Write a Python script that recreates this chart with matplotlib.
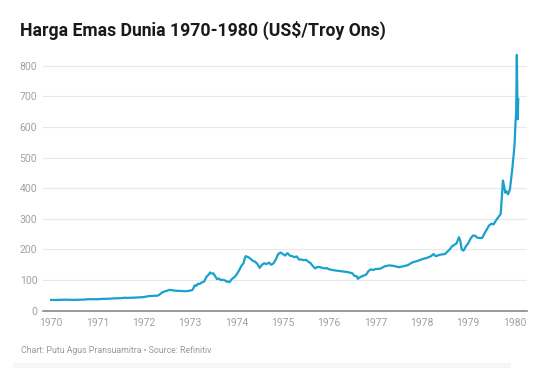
import matplotlib.pyplot as plt
from matplotlib.patches import Rectangle

# ====================== DATA ======================
years = [
    1970.00, 1970.10, 1970.20, 1970.30, 1970.40, 1970.50, 1970.60, 1970.70, 1970.80, 1970.90,
    1971.00, 1971.10, 1971.20, 1971.30, 1971.40, 1971.50, 1971.60, 1971.65, 1971.70, 1971.80, 1971.90,
    1972.00, 1972.10, 1972.20, 1972.30, 1972.35, 1972.40, 1972.45, 1972.50, 1972.55, 1972.60,
    1972.65, 1972.70, 1972.80, 1972.90, 1972.95,
    1973.00, 1973.05, 1973.10, 1973.13, 1973.17, 1973.20, 1973.25, 1973.30, 1973.35, 1973.40,
    1973.43, 1973.46, 1973.50, 1973.55, 1973.58, 1973.62, 1973.66, 1973.70, 1973.75, 1973.78,
    1973.80, 1973.85, 1973.88, 1973.92, 1973.96,
    1974.00, 1974.05, 1974.10, 1974.15, 1974.18, 1974.20, 1974.25, 1974.30, 1974.35, 1974.40,
    1974.45, 1974.50, 1974.55, 1974.60, 1974.65, 1974.70, 1974.75, 1974.80, 1974.85, 1974.90, 1974.95,
    1975.00, 1975.05, 1975.10, 1975.15, 1975.20, 1975.25, 1975.30, 1975.35, 1975.40, 1975.45,
    1975.50, 1975.55, 1975.60, 1975.65, 1975.70, 1975.75, 1975.80, 1975.85, 1975.90, 1975.95,
    1976.00, 1976.10, 1976.20, 1976.30, 1976.40, 1976.50, 1976.55, 1976.60, 1976.62, 1976.65,
    1976.70, 1976.75, 1976.80, 1976.85, 1976.90, 1976.95,
    1977.00, 1977.10, 1977.20, 1977.30, 1977.40, 1977.50, 1977.60, 1977.70, 1977.80, 1977.90,
    1978.00, 1978.10, 1978.20, 1978.25, 1978.30, 1978.40, 1978.50, 1978.60, 1978.65, 1978.70,
    1978.75, 1978.80, 1978.83, 1978.86, 1978.90, 1978.95,
    1979.00, 1979.05, 1979.10, 1979.15, 1979.20, 1979.30, 1979.35, 1979.40, 1979.45, 1979.50,
    1979.55, 1979.60, 1979.65, 1979.70, 1979.72, 1979.75, 1979.77, 1979.80, 1979.83, 1979.86,
    1979.90, 1979.92, 1979.95, 1979.98,
    1980.00, 1980.02, 1980.035, 1980.05, 1980.055, 1980.06, 1980.065, 1980.07, 1980.075, 1980.08,
]
price = [
    35.2, 35.0, 35.6, 35.9, 35.6, 35.3, 35.6, 36.2, 37.5, 37.4,
    37.4, 38.6, 38.8, 39.8, 40.5, 40.8, 42.5, 41.5, 42.3, 42.6, 43.5,
    44.5, 47.5, 48.5, 49.0, 54.0, 60.0, 63.0, 65.0, 68.0, 67.0,
    66.0, 65.0, 64.5, 63.5, 64.5,
    65.5, 68.0, 83.0, 81.0, 88.0, 87.0, 92.0, 95.0, 110.0, 118.0,
    125.0, 121.0, 122.0, 110.0, 103.0, 105.0, 100.0, 101.0, 99.0, 95.0,
    96.0, 93.0, 100.0, 106.0, 110.0,
    118.0, 130.0, 145.0, 155.0, 172.0, 178.0, 175.0, 170.0, 163.0, 160.0,
    153.0, 140.0, 150.0, 155.0, 152.0, 157.0, 150.0, 155.0, 168.0, 185.0, 190.0,
    185.0, 180.0, 188.0, 180.0, 178.0, 175.0, 177.0, 167.0, 167.0, 165.0,
    166.0, 160.0, 155.0, 145.0, 138.0, 143.0, 142.0, 140.0, 138.0, 139.0,
    135.0, 132.0, 130.0, 128.0, 126.0, 122.0, 113.0, 112.0, 104.0, 108.0,
    112.0, 115.0, 118.0, 130.0, 135.0, 133.0,
    136.0, 137.0, 145.0, 148.0, 146.0, 142.0, 145.0, 149.0, 158.0, 162.0,
    168.0, 172.0, 178.0, 185.0, 178.0, 183.0, 185.0, 200.0, 210.0, 215.0,
    220.0, 240.0, 228.0, 200.0, 196.0, 210.0,
    220.0, 235.0, 245.0, 245.0, 238.0, 237.0, 252.0, 265.0, 278.0, 284.0,
    282.0, 295.0, 305.0, 315.0, 355.0, 425.0, 410.0, 385.0, 390.0, 380.0,
    395.0, 420.0, 460.0, 510.0,
    540.0, 610.0, 650.0, 835.0, 780.0, 700.0, 640.0, 625.0, 660.0, 690.0,
]
year_ticks = list(range(1970, 1981))
value_ticks = [0, 100, 200, 300, 400, 500, 600, 700, 800]

plt.rcParams['font.family'] = ['Roboto', 'DejaVu Sans']

fig = plt.figure(figsize=(5.49, 3.68), dpi=100)
ax = fig.add_axes([0.078, 0.1557, 0.882, 0.7076])

ax.plot(years, price, color='#18a1cd', linewidth=1.6, solid_joinstyle='round', zorder=3)

ax.set_xlim(1969.82, 1980.27)
ax.set_ylim(0, 850)
ax.set_xticks(year_ticks)
ax.set_yticks(value_ticks)
ax.tick_params(length=0, labelsize=7.5, labelcolor='#a0a0a0')
ax.tick_params(axis='y', pad=4)
ax.tick_params(axis='x', pad=5)

ax.grid(axis='y', color='#e8e8e8', linewidth=0.8)
ax.set_axisbelow(True)
for s in ['top', 'right', 'left']:
    ax.spines[s].set_visible(False)
ax.spines['bottom'].set_color('#888888')
ax.spines['bottom'].set_linewidth(1.2)

fig.text(0.036, 0.918, 'Harga Emas Dunia 1970-1980 (US$/Troy Ons)',
         fontsize=12.7, fontweight='bold', color='#1a1a1a', va='center')
fig.text(0.038, 0.048, 'Chart: Putu Agus Pransuamitra \u2022 Source: Refinitiv',
         fontsize=6.3, color='#999999', va='center')

# faint band at the bottom edge
fig.patches.append(Rectangle((0.024, 0.0), 0.907, 0.014, transform=fig.transFigure,
                             facecolor='#f6f6f6', edgecolor='none'))

fig.savefig('out.png', dpi=100)
